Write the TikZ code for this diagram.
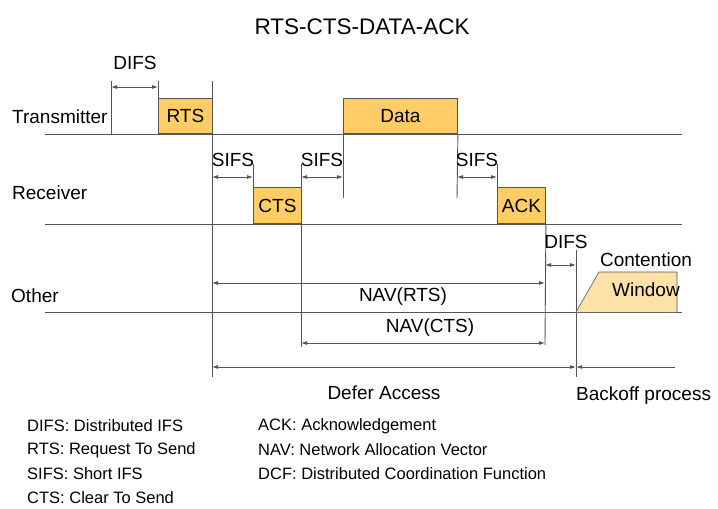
\documentclass[tikz,border=0pt]{standalone}
\usepackage{fontspec}
\setmainfont{Liberation Sans}
\usepackage{tikz}
\usetikzlibrary{arrows.meta,calc}
\definecolor{frameorange}{HTML}{FFCC66}
\definecolor{cwfill}{HTML}{FDE2A8}
\definecolor{linegray}{HTML}{555555}
\tikzset{
  axis/.style={draw=linegray, line width=0.9pt},
  tick/.style={draw=linegray, line width=0.9pt},
  frame/.style={draw=linegray, fill=frameorange, line width=0.9pt, inner sep=0pt,
    anchor=south west, font=\fontsize{19}{22}\selectfont},
  span/.style={{Latex[length=6pt,width=4pt]}-{Latex[length=6pt,width=4pt]}, draw=linegray, line width=0.8pt},
  halfspan/.style={{Latex[length=6pt,width=4pt]}-, draw=linegray, line width=0.8pt},
  label/.style={black, font=\fontsize{19}{22}\selectfont, inner sep=0pt},
  legend/.style={black, font=\fontsize{16.5}{18}\selectfont, anchor=west, inner sep=0pt}
}

\begin{document}
\begin{tikzpicture}[x=1pt, y=-1pt]
  \useasboundingbox (0,0) rectangle (718,509);
  % time lines
  \coordinate (txL) at (45,134);  \coordinate (txR) at (682,134);
  \coordinate (rxL) at (45,224);  \coordinate (rxR) at (682,224);
  \coordinate (otL) at (45,312);  \coordinate (otR) at (682,312);
  \draw[axis] (txL)--(txR);
  \draw[axis] (rxL)--(rxR);
  \draw[axis] (otL)--(otR);
  \node[label] (title) at (362,27) {\fontsize{22.5}{26}\selectfont RTS-CTS-DATA-ACK};
  \node[label, anchor=west] (tx) at (12,117) {Transmitter};
  \node[label, anchor=west] (rx) at (12,193) {Receiver};
  \node[label, anchor=west] (ot) at (11,296) {Other};
  % frames
  \node[frame, minimum width=54pt, minimum height=35pt] (rts) at (158,134) {RTS};
  \node[frame, minimum width=48pt, minimum height=36pt] (cts) at (253,224) {CTS};
  \node[frame, minimum width=114pt, minimum height=35pt] (data) at (343,134) {Data};
  \node[frame, minimum width=48pt, minimum height=36pt] (ack) at (497,224) {ACK};
  % DIFS before RTS
  \coordinate (d0) at (111,81);
  \coordinate (d1) at (158,81);
  \coordinate (r2) at (212,81);
  \draw[tick] (d0)--(111,134);
  \draw[tick] (d1)--(rts.north west);
  \draw[tick] (r2)--(212,377);
  \draw[span] (111,87)--(158,87);
  \node[label] (difsA) at (135,63) {DIFS};
  % SIFS before CTS
  \coordinate (s1) at (253,164);
  \draw[tick] (s1)--(cts.north west);
  \draw[span] (212,177)--(253,177);
  \node[label] (sifsA) at (233,160) {SIFS};
  % SIFS before Data
  \coordinate (s2) at (301,164);
  \draw[tick] (s2)--(301,347);
  \draw[tick] (data.south west)--(343,198);
  \draw[span] (301,177)--(343,177);
  \node[label] (sifsB) at (322,160) {SIFS};
  % SIFS before ACK
  \coordinate (s3) at (497,164);
  \draw[tick] (data.south east)--(457,198);
  \draw[tick] (s3)--(ack.north west);
  \draw[span] (457,177)--(497,177);
  \node[label] (sifsC) at (477,160) {SIFS};
  % DIFS after ACK
  \draw[tick] (ack.south east)--(545,345);
  \coordinate (d9) at (576,250);
  \draw[tick] (d9)--(576,377);
  \draw[span] (545,265)--(576,265);
  \node[label] (difsB) at (566,242) {DIFS};
  % contention window
  \draw[draw=linegray, fill=cwfill, line width=0.6pt] (576,312)--(599,272)--(677,272)--(677,312);
  \node[label] (cont) at (646,260) {Contention};
  \node[label] (win) at (646,290) {Window};
  % NAV
  \draw[span] (212,283)--(545,283);
  \node[label] (navrts) at (403,297) {NAV(RTS)};
  \draw[span] (301,343)--(545,343);
  \node[label] (navcts) at (430,328) {NAV(CTS)};
  % defer / backoff
  \draw[span] (212,367)--(576,367);
  \draw[halfspan] (576,367)--(675,367);
  \node[label] (defer) at (384,393) {Defer Access};
  \node[label, anchor=west] (backoff) at (576,396) {Backoff process};
  % legend
  \node[legend] (lg1) at (27,426) {DIFS: Distributed IFS};
  \node[legend] (lg2) at (27,450) {RTS: Request To Send};
  \node[legend] (lg3) at (27,474) {SIFS: Short IFS};
  \node[legend] (lg4) at (27,498) {CTS: Clear To Send};
  \node[legend] (lg5) at (258,426) {ACK: Acknowledgement};
  \node[legend] (lg6) at (258,450) {NAV: Network Allocation Vector};
  \node[legend] (lg7) at (258,474) {DCF: Distributed Coordination Function};
\end{tikzpicture}
\end{document}
